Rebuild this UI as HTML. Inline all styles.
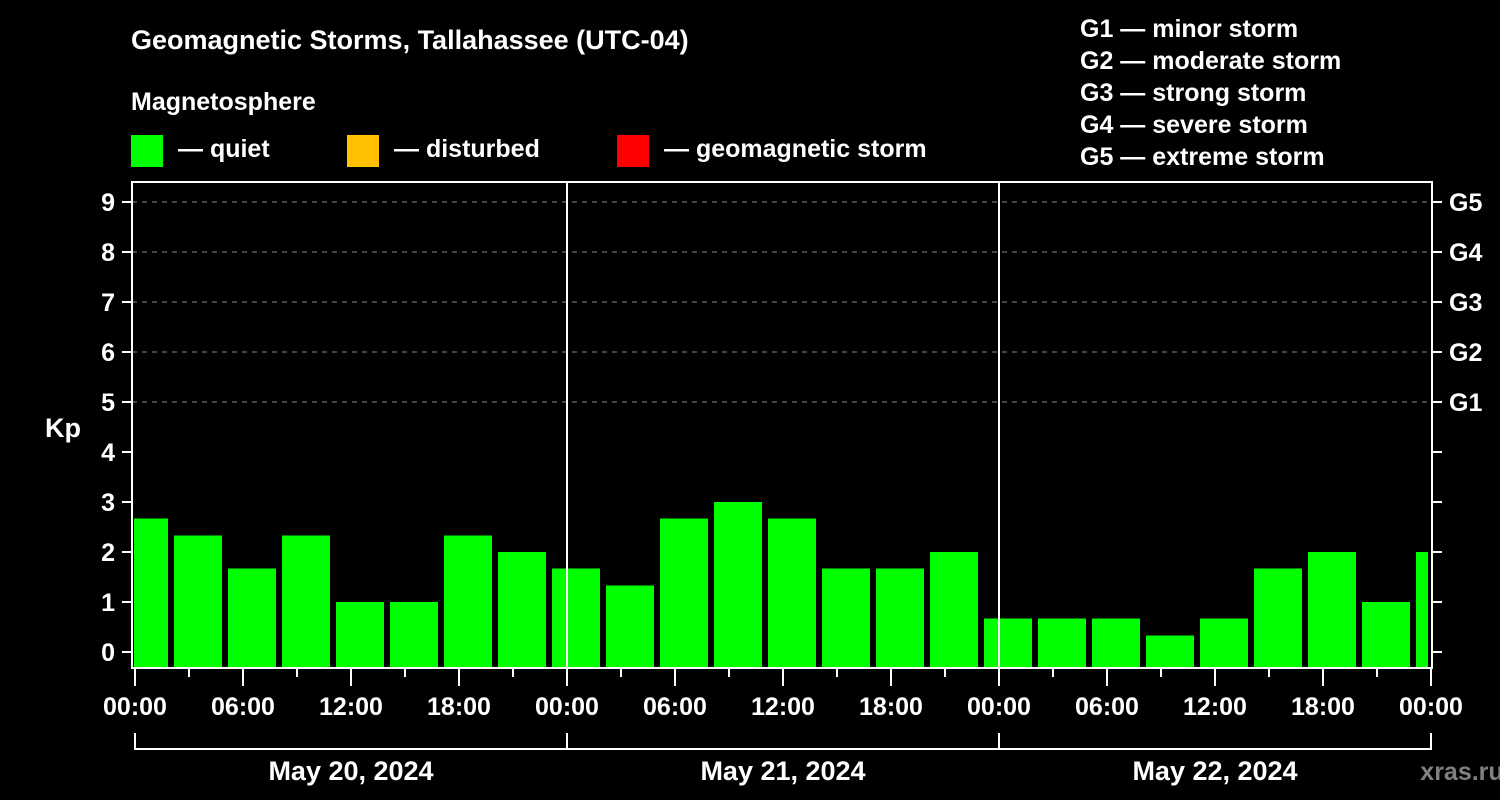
<!DOCTYPE html>
<html><head><meta charset="utf-8"><style>
html,body{margin:0;padding:0;background:#000;width:1500px;height:800px;overflow:hidden}
svg{display:block}
text{font-family:"Liberation Sans",Arial,sans-serif;font-weight:bold;fill:#fff}
</style></head><body>
<svg id="chart" width="1500" height="800">
<text x="131" y="49" font-size="27">Geomagnetic Storms, Tallahassee (UTC-04)</text>
<text x="131" y="110" font-size="25">Magnetosphere</text>
<g><rect x="131" y="135" width="32" height="32" fill="#00ff00"/><text x="178" y="157" font-size="25">— quiet</text></g>
<g><rect x="347" y="135" width="32" height="32" fill="#ffc000"/><text x="394" y="157" font-size="25">— disturbed</text></g>
<g><rect x="617" y="135" width="32" height="32" fill="#ff0000"/><text x="664" y="157" font-size="25">— geomagnetic storm</text></g>
<g font-size="25">
<text x="1080" y="37">G1 — minor storm</text>
<text x="1080" y="69">G2 — moderate storm</text>
<text x="1080" y="101">G3 — strong storm</text>
<text x="1080" y="133">G4 — severe storm</text>
<text x="1080" y="165">G5 — extreme storm</text>
</g>
<text x="63" y="437" font-size="27" text-anchor="middle">Kp</text>
<text x="1462" y="780" font-size="25" fill="#808080" style="fill:#808080" text-anchor="middle">xras.ru</text>
<g id="plot"></g>
</svg>
<script>
const kpValues=[2.67,2.33,1.67,2.33,1,1,2.33,2,1.67,1.33,2.67,3,2.67,1.67,1.67,2,0.67,0.67,0.67,0.33,0.67,1.67,2,1,2];
const barCenterHours=[0.5,3.5,6.5,9.5,12.5,15.5,18.5,21.5,24.5,27.5,30.5,33.5,36.5,39.5,42.5,45.5,48.5,51.5,54.5,57.5,60.5,63.5,66.5,69.5,72.5];
const yTicks=[0,1,2,3,4,5,6,7,8,9];
const gLabels=["G1","G2","G3","G4","G5"];
const xTickLabels=["00:00","06:00","12:00","18:00","00:00","06:00","12:00","18:00","00:00","06:00","12:00","18:00","00:00"];
const dayLabels=["May 20, 2024","May 21, 2024","May 22, 2024"];
const NS="http://www.w3.org/2000/svg";
const X0=135,PXH=18,L=132,R=1432,T=182,B=668;
const xs=h=>X0+h*PXH;
const ys=v=>652-v*50;
const g=document.getElementById('plot');
function mk(t,a){const e=document.createElementNS(NS,t);for(const k in a)e.setAttribute(k,a[k]);g.appendChild(e);return e;}
// grid
for(let v=5;v<=9;v++){const e=mk('line',{x1:L,x2:R,y1:ys(v),y2:ys(v),stroke:'#888','stroke-dasharray':'5,5','stroke-width':1});

}
// clip
const cp=mk('clipPath',{id:'pc'});const cr=document.createElementNS(NS,'rect');
cr.setAttribute('x',134);cr.setAttribute('y',T);cr.setAttribute('width',1428-134);cr.setAttribute('height',B-T);cp.appendChild(cr);
// bars
kpValues.forEach((v,i)=>{const c=xs(barCenterHours[i]);const top=ys(v);
const color=v>=5?'#ff0000':(v>=4?'#ffc000':'#00ff00');
const b=mk('rect',{x:c-24,y:top,width:48,height:B-top,fill:color,'clip-path':'url(#pc)'});

});
// day separators
[24,48].forEach(h=>{const e=mk('line',{x1:xs(h),x2:xs(h),y1:T,y2:B,stroke:'#fff','stroke-width':2});

});
// frame
const f=mk('rect',{x:L,y:T,width:R-L,height:B-T,fill:'none',stroke:'#fff','stroke-width':2});


// y ticks
yTicks.forEach(v=>{mk('line',{x1:122,x2:L,y1:ys(v),y2:ys(v),stroke:'#fff','stroke-width':2});
mk('line',{x1:R,x2:1442,y1:ys(v),y2:ys(v),stroke:'#fff','stroke-width':2});
const t=mk('text',{x:115,y:ys(v)+9,'font-size':25,'text-anchor':'end'});t.textContent=v;

});
gLabels.forEach((s,i)=>{const t=mk('text',{x:1449,y:ys(i+5)+9,'font-size':25});t.textContent=s;

});
// x ticks
for(let h=0;h<=72;h+=3){const major=h%6===0;mk('line',{x1:xs(h),x2:xs(h),y1:B,y2:major?686:677,stroke:'#fff','stroke-width':2});}
xTickLabels.forEach((s,i)=>{const t=mk('text',{x:xs(i*6),y:715,'font-size':25,'text-anchor':'middle'});t.textContent=s;

});
// bracket
mk('line',{x1:xs(0),x2:xs(72),y1:749,y2:749,stroke:'#fff','stroke-width':2});
for(let d=0;d<=3;d++)mk('line',{x1:xs(d*24),x2:xs(d*24),y1:733,y2:750,stroke:'#fff','stroke-width':2});
dayLabels.forEach((s,i)=>{const t=mk('text',{x:xs(i*24+12),y:780,'font-size':27,'text-anchor':'middle'});t.textContent=s;

});
</script>
</body></html>
